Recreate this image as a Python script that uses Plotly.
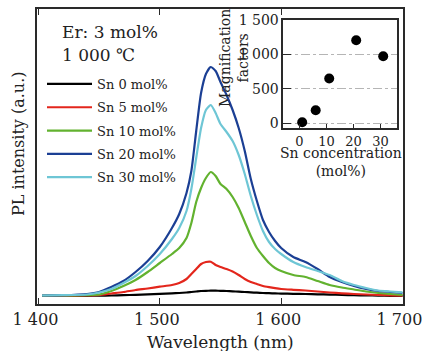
import plotly.graph_objects as go

# ---- data ----
wavelength = [1403, 1420, 1440, 1450, 1460, 1470, 1480, 1490, 1500, 1510, 1516, 1522, 1526, 1530,
              1534, 1538, 1542, 1546, 1550, 1555, 1560, 1565, 1570, 1575, 1580, 1585, 1590, 1595,
              1600, 1610, 1620, 1630, 1640, 1650, 1660, 1670, 1680, 1690, 1700]

sn0 = [0, 0.1, 0.2, 0.3, 0.5, 0.8, 1.2, 1.7, 2.2, 2.7, 3, 3.5, 4, 4.5, 5, 5.2, 5.3, 5.3, 5.2, 5,
       4.7, 4.3, 4, 3.6, 3.3, 3, 2.8, 2.6, 2.4, 2.2, 2, 1.7, 1.4, 1.1, 0.8, 0.6, 0.4, 0.2, 0.1]
sn5 = [0.2, 0.3, 0.5, 1, 2.5, 4, 6, 7.5, 9.3, 11, 13, 17, 22, 27, 32, 34, 34.3, 31, 29, 27,
       24.5, 21, 17, 14, 12, 10, 8.8, 7.8, 7, 6.2, 5.5, 4.5, 3.5, 2.7, 2, 1.5, 1, 0.7, 0.4]
sn10 = [0.3, 0.5, 0.8, 1.5, 5, 10, 16, 24, 33, 42, 48, 58, 73, 94, 108, 118, 124, 120, 112, 107,
        99, 88, 74, 60, 48, 40, 33, 28, 25, 21, 19, 15, 11, 8.5, 6.5, 4.5, 3, 2, 1]
sn20 = [0.5, 0.8, 2, 4, 9, 15, 24, 35, 49, 68, 82, 103, 125, 165, 203, 222, 229, 225, 214, 201,
        186, 168, 145, 117, 95, 76, 64, 55, 48, 39, 34, 27, 19, 14, 10, 7, 5, 4, 3]
sn30 = [0.5, 0.8, 1.5, 3.5, 7, 13, 20, 30, 42, 57, 68, 85, 107, 138, 168, 186, 191, 183, 172, 164,
        155, 141, 122, 100, 81, 65, 54, 47, 42, 34, 29, 25, 21, 15, 11, 8, 5.5, 4.5, 3.7]

series_names = ["Sn 0 mol%", "Sn 5 mol%", "Sn 10 mol%", "Sn 20 mol%", "Sn 30 mol%"]
series_colors = ["#000000", "#e3261c", "#62b22f", "#1b3f94", "#6ec6d5"]

sn_conc = [1, 6, 11, 21, 31]
magnification = [15, 190, 650, 1205, 975]

x_ticks = [1400, 1500, 1600, 1700]
x_ticktext = ["1 400", "1 500", "1 600", "1 700"]
inset_yticks = [0, 500, 1000, 1500]
inset_yticktext = ["0", "500", "1 000", "1 500"]
inset_xticks = [0, 10, 20, 30]

FONT = "DejaVu Serif"
LINE = "#2a2a2a"

fig = go.Figure()
for i, (name, ys, col) in enumerate(zip(series_names, [sn0, sn5, sn10, sn20, sn30], series_colors)):
    fig.add_trace(go.Scatter(x=wavelength, y=ys, mode="lines", name=name, legendgroup=f"g{i}",
                             line=dict(color=col, width=2.2, shape="spline", smoothing=0.6)))

fig.add_trace(go.Scatter(x=sn_conc, y=magnification, mode="markers", xaxis="x2", yaxis="y2",
                         showlegend=False, marker=dict(color="black", size=10)))

W, H = 425, 351
ml, mr, mt, mb = 37, 22, 9, 47
pw, ph = W - ml - mr, H - mt - mb


def px(x):
    return (x - ml) / pw


def py(y):
    return (H - mb - y) / ph


fig.update_layout(
    width=W, height=H,
    margin=dict(l=ml, r=mr, t=mt, b=mb, autoexpand=False),
    paper_bgcolor="white", plot_bgcolor="white",
    font=dict(family=FONT, color="#222222"),
    xaxis=dict(range=[1398.8, 1700.4], tickvals=x_ticks, ticktext=x_ticktext, ticks="inside",
               ticklen=6, tickcolor=LINE, showline=True, mirror="all", linecolor=LINE, linewidth=1.5,
               showgrid=False, zeroline=False, tickfont=dict(size=16, family=FONT), automargin=False,
               ticklabeloverflow="allow", ticklabelshift=-3),
    yaxis=dict(range=[-8, 287], showticklabels=False, ticks="", showline=True, mirror="all",
               linecolor=LINE, linewidth=1.5, showgrid=False, zeroline=False, automargin=False),
    xaxis2=dict(domain=[px(283.3), px(396.7)], anchor="y2", range=[-6, 36], tickvals=inset_xticks,
                ticks="inside", ticklen=5, tickcolor=LINE, showline=True, mirror=True, linecolor=LINE,
                linewidth=1.5, showgrid=False, zeroline=False, tickfont=dict(size=13, family=FONT),
                automargin=False),
    yaxis2=dict(domain=[py(128.3), py(20)], anchor="x2", range=[-72, 1500], tickvals=inset_yticks,
                ticktext=inset_yticktext, ticks="inside", ticklen=8, tickcolor=LINE, showline=True,
                mirror=True, linecolor=LINE, linewidth=1.5, showgrid=True, gridcolor="#b5b5b5",
                griddash="dashdot", gridwidth=1, zeroline=False, tickfont=dict(size=14, family=FONT),
                automargin=False),
    legend=dict(x=px(42), y=py(69), xanchor="left", yanchor="top", bgcolor="rgba(0,0,0,0)",
                font=dict(size=13, family=FONT), tracegroupgap=3.4, itemwidth=45),
    showlegend=True,
)

fig.add_annotation(text="Wavelength (nm)", x=0.5, y=py(341.7), xref="paper", yref="paper",
                   xanchor="center", yanchor="middle", showarrow=False, font=dict(size=17, family=FONT))
fig.add_annotation(text="Er: 3 mol%", x=px(60), y=py(31.7), xref="paper", yref="paper",
                   xanchor="left", yanchor="middle", showarrow=False, font=dict(size=17, family=FONT))
fig.add_annotation(text="1 000 ℃", x=px(60), y=py(55), xref="paper", yref="paper",
                   xanchor="left", yanchor="middle", showarrow=False, font=dict(size=17, family=FONT))
fig.add_annotation(text="PL intensity (a.u.)", x=px(18), y=py(144), xref="paper", yref="paper",
                   xanchor="center", yanchor="middle", textangle=-90, showarrow=False,
                   font=dict(size=16, family=FONT))
fig.add_annotation(text="Magnification<br>factors", x=px(234), y=py(58), xref="paper", yref="paper",
                   xanchor="center", yanchor="middle", textangle=-90, showarrow=False,
                   font=dict(size=14, family=FONT))
fig.add_annotation(text="Sn concentration<br>(mol%)", x=px(340.8), y=py(162), xref="paper", yref="paper",
                   xanchor="center", yanchor="middle", showarrow=False, font=dict(size=14, family=FONT))

fig.write_html("out.html", config={"displayModeBar": False},
               post_script="document.body.style.margin='0';")
